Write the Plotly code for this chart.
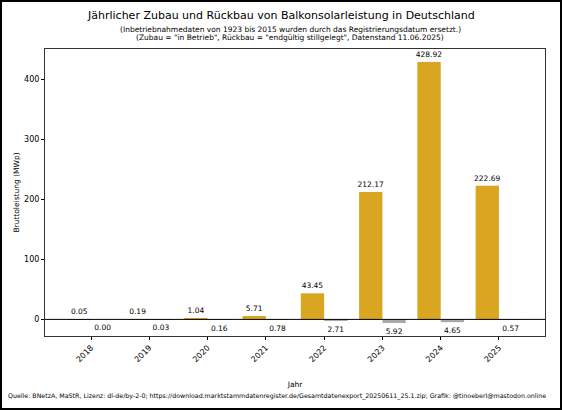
import plotly.graph_objects as go

# Daten
jahre = [2018, 2019, 2020, 2021, 2022, 2023, 2024, 2025]
zubau = [0.05, 0.19, 1.04, 5.71, 43.45, 212.17, 428.92, 222.69]
rueckbau = [0.00, 0.03, 0.16, 0.78, 2.71, 5.92, 4.65, 0.57]
y_ticks = [0, 100, 200, 300, 400]

FONT = "DejaVu Sans"
W, H = 562, 410
L, R, T, B = 45, 17, 49, 74
PW, PH = W - L - R, H - T - B
BAR_W = 0.4


def py(pix):
    # Pixel-Zeile -> Paper-Koordinate
    return (H - B - pix) / PH


def px(pix):
    return (pix - L) / PW


label_font = dict(family=FONT, size=7.5, color="black")

fig = go.Figure()

fig.add_trace(go.Bar(
    x=jahre, y=zubau, offset=-BAR_W, width=BAR_W,
    marker=dict(color="#DAA520", line=dict(width=0)),
    text=[f"{v:.2f}" for v in zubau], textposition="outside",
    constraintext="none", textfont=label_font,
    cliponaxis=False, name="Zubau",
))
fig.add_trace(go.Bar(
    x=jahre, y=[-v for v in rueckbau], offset=0, width=BAR_W,
    marker=dict(color="#A9A9A9", line=dict(width=0)),
    name="Rückbau",
))
# Beschriftung der Rückbau-Balken unterhalb der Balken
# (unsichtbare Marker schieben den Text etwas nach unten)
fig.add_trace(go.Scatter(
    x=[j + BAR_W / 2 for j in jahre], y=[-v for v in rueckbau],
    mode="markers+text", text=[f"{v:.2f}" for v in rueckbau],
    marker=dict(size=7, opacity=0),
    textposition="bottom center", textfont=label_font,
    cliponaxis=False, hoverinfo="skip",
))

fig.add_hline(y=0, line=dict(color="black", width=1))

# Rahmen um die ganze Grafik
fig.add_shape(type="rect", xref="paper", yref="paper",
              x0=px(1), x1=px(W - 1), y0=py(H - 1), y1=py(1),
              line=dict(color="black", width=2), layer="above")

annotations = [
    dict(text="Jährlicher Zubau und Rückbau von Balkonsolarleistung in Deutschland",
         x=px(281), y=py(15.7), font=dict(size=11)),
    dict(text="(Inbetriebnahmedaten von 1923 bis 2015 wurden durch das Registrierungsdatum ersetzt.)",
         x=px(290), y=py(29.3), font=dict(size=7.5)),
    dict(text="(Zubau = \"in Betrieb\", Rückbau = \"endgültig stillgelegt\", Datenstand 11.06.2025)",
         x=px(290), y=py(37.8), font=dict(size=7.5)),
    dict(text="Quelle: BNetzA, MaStR, Lizenz: dl-de/by-2-0; https://download.marktstammdatenregister.de/"
              "Gesamtdatenexport_20250611_25.1.zip; Grafik: @tinoeberl@mastodon.online",
         x=px(5.5), y=py(395.7), xanchor="left", font=dict(size=6.3)),
]
for a in annotations:
    a.setdefault("xanchor", "center")
    a.update(xref="paper", yref="paper", yanchor="middle", showarrow=False)
    a["font"] = dict(family=FONT, color="black", **a["font"])

fig.update_layout(
    width=W, height=H,
    margin=dict(l=L, r=R, t=T, b=B),
    paper_bgcolor="white", plot_bgcolor="white",
    showlegend=False, barmode="overlay",
    font=dict(family=FONT, color="black", size=8),
    annotations=annotations,
)
fig.update_xaxes(
    range=[2017.21, 2025.79], tickmode="array", tickvals=jahre,
    ticktext=[str(j) for j in jahre], tickangle=-45,
    ticks="outside", ticklen=3, tickcolor="black",
    showline=True, linecolor="#333", linewidth=1, mirror=True,
    showgrid=False, zeroline=False,
    title=dict(text="Jahr", font=dict(size=7.5), standoff=18),
    tickfont=dict(size=8),
)
fig.update_yaxes(
    range=[-27.66, 450.66], tickvals=y_ticks,
    ticks="outside", ticklen=3, tickcolor="black",
    showline=True, linecolor="#333", linewidth=1, mirror=True,
    showgrid=False, zeroline=False,
    title=dict(text="Bruttoleistung (MWp)", font=dict(size=7.5), standoff=3),
    tickfont=dict(size=8),
)

fig.write_html("out.html", config={"displayModeBar": False},
               post_script="document.body.style.margin='0';")
